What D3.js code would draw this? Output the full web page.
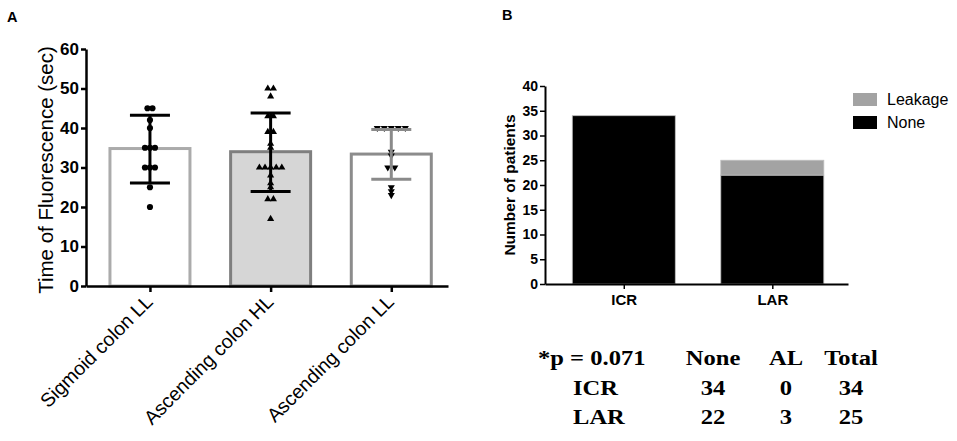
<!DOCTYPE html>
<html>
<head>
<meta charset="utf-8">
<script src="https://cdn.jsdelivr.net/npm/d3@7"></script>
<style>
  body { margin: 0; background: #fff; }
  svg { display: block; font-family: "Liberation Sans", Arial, sans-serif; }
  .boldTicks text { font-weight: bold; }
</style>
</head>
<body>
<svg id="chart" width="957" height="441"></svg>
<script>
// ---- panel A data ----
const catsA = ["Sigmoid colon LL", "Ascending colon HL", "Ascending colon LL"];
const meansA = [34.8, 34.0, 33.4];
const errHighA = [43.2, 43.8, 39.6];
const errLowA = [26.1, 23.9, 27.0];
const pointsSigmoidLL = [45, 45, 42, 40, 35, 35, 35, 30, 30, 30, 25, 20];
const pointsAscendingHL = [50, 50, 48, 43, 43, 39, 39, 36, 35, 30, 30, 30, 30, 30, 28, 26, 25, 22, 22, 17];
const pointsAscendingLL = [40, 40, 40, 40, 40, 34, 33, 30, 30, 25, 24, 23];
const yTicksA = [0, 10, 20, 30, 40, 50, 60];

// ---- panel B data ----
const groupsB = ["ICR", "LAR"];
const noneCounts = [34, 22];
const leakCounts = [0, 3];
const yTicksB = [0, 5, 10, 15, 20, 25, 30, 35, 40];
const pValueText = "*p = 0.071";
const tableHeads = ["None", "AL", "Total"];

const svg = d3.select("#chart");

// ================= panel A =================
const barStroke = ["#ababab", "#7f7f7f", "#8c8c8c"];
const barFill = ["#ffffff", "#d6d6d6", "#ffffff"];
const errColor = ["#000", "#000", "#8a8a8a"];
const markers = [d3.symbolCircle, d3.symbolTriangle, d3.symbolTriangle];
const markerSize = [30, 22, 22];
const markerRotate = [0, 0, 180];
const markerStep = [5, 5.6, 7];
const pointsA = [pointsSigmoidLL, pointsAscendingHL, pointsAscendingLL];

const xA = d3.scalePoint().domain(catsA).range([86, 448]).padding(0.5).align(0.53);
const yA = d3.scaleLinear().domain([0, 60]).range([286, 49]);
const barWA = 80;

const gA = svg.append("g");

// bars
gA.selectAll("rect.barA")
  .data(catsA).enter()
  .append("rect")
  .attr("class", "barA")
  .attr("x", d => xA(d) - barWA / 2)
  .attr("y", (d, i) => yA(meansA[i]))
  .attr("width", barWA)
  .attr("height", (d, i) => yA(0) - yA(meansA[i]))
  .attr("fill", (d, i) => barFill[i])
  .attr("stroke", (d, i) => barStroke[i])
  .attr("stroke-width", 3);

// scatter points, identical values spread side by side
pointsA.forEach((vals, i) => {
  const counts = d3.rollup(vals, v => v.length, v => v);
  const seen = new Map();
  const pts = vals.map(v => {
    const k = seen.get(v) || 0;
    seen.set(v, k + 1);
    const n = counts.get(v);
    return { v, off: (k - (n - 1) / 2) * markerStep[i] };
  });
  gA.selectAll(null)
    .data(pts).enter()
    .append("path")
    .attr("d", d3.symbol().type(markers[i]).size(markerSize[i]))
    .attr("transform", d => `translate(${xA(catsA[i]) + d.off},${yA(d.v)}) rotate(${markerRotate[i]})`)
    .attr("fill", "#000");
});

// error bars
const capW = 40;
catsA.forEach((c, i) => {
  const eg = gA.append("g").attr("stroke", errColor[i]).attr("stroke-width", 3);
  eg.append("line")
    .attr("x1", xA(c)).attr("x2", xA(c))
    .attr("y1", yA(errHighA[i])).attr("y2", yA(errLowA[i]));
  [errHighA[i], errLowA[i]].forEach(v => {
    eg.append("line")
      .attr("x1", xA(c) - capW / 2).attr("x2", xA(c) + capW / 2)
      .attr("y1", yA(v)).attr("y2", yA(v));
  });
});

// axes A
const yAxisA = gA.append("g")
  .attr("class", "boldTicks")
  .attr("transform", "translate(86,0)")
  .call(d3.axisLeft(yA).tickValues(yTicksA).tickSize(5).tickPadding(2).tickSizeOuter(0));
yAxisA.select(".domain").attr("stroke", "#000").attr("stroke-width", 2.5);
yAxisA.selectAll(".tick line").attr("stroke", "#000").attr("stroke-width", 2.5);
yAxisA.selectAll(".tick text")
  .attr("font-size", 17).attr("fill", "#000")
  .attr("font-family", "Liberation Sans, Arial, sans-serif");

const xAxisA = gA.append("g")
  .attr("transform", "translate(0,286)")
  .call(d3.axisBottom(xA).tickSize(6).tickSizeOuter(0).tickFormat(""));
xAxisA.select(".domain").attr("stroke", "#000").attr("stroke-width", 2.5);
xAxisA.selectAll(".tick line").attr("stroke", "#000").attr("stroke-width", 2.5);

gA.selectAll("text.xlabA")
  .data(catsA).enter()
  .append("text")
  .attr("class", "xlabA")
  .attr("transform", d => `translate(${xA(d) + 4},303) rotate(-45)`)
  .attr("text-anchor", "end")
  .attr("font-size", 19.5)
  .attr("fill", "#000")
  .text(d => d);

gA.append("text")
  .attr("transform", "translate(53,170) rotate(-90)")
  .attr("text-anchor", "middle")
  .attr("font-size", 20.5)
  .attr("fill", "#000")
  .text("Time of Fluorescence (sec)");

svg.append("text")
  .attr("x", 7).attr("y", 22)
  .attr("font-size", 14.5).attr("font-weight", "bold")
  .text("A");

// ================= panel B =================
const xB = d3.scalePoint().domain(groupsB).range([545, 848]).padding(0.52).align(0.51);
const yB = d3.scaleLinear().domain([0, 40]).range([284, 86]);
const barWB = 103;
const keysB = ["None", "Leakage"];
const colorB = d3.scaleOrdinal().domain(keysB).range(["#000000", "#a3a3a3"]);

const tableB = groupsB.map((g, i) => ({ group: g, None: noneCounts[i], Leakage: leakCounts[i] }));
const stackB = d3.stack().keys(keysB)(tableB);

const gB = svg.append("g");
gB.selectAll("g.layer")
  .data(stackB).enter()
  .append("g")
  .attr("class", "layer")
  .attr("fill", d => colorB(d.key))
  .selectAll("rect")
  .data(d => d.filter(s => s[1] > s[0])).enter()
  .append("rect")
  .attr("x", d => xB(d.data.group) - barWB / 2)
  .attr("y", d => yB(d[1]))
  .attr("width", barWB)
  .attr("height", d => yB(d[0]) - yB(d[1]))
  .attr("stroke", "#bdbdbd")
  .attr("stroke-width", 0.8);

const yAxisB = gB.append("g")
  .attr("class", "boldTicks")
  .attr("transform", "translate(545,0)")
  .call(d3.axisLeft(yB).tickValues(yTicksB).tickSize(5).tickPadding(2).tickSizeOuter(0));
yAxisB.select(".domain").attr("stroke", "#000").attr("stroke-width", 2);
yAxisB.selectAll(".tick line").attr("stroke", "#000").attr("stroke-width", 1.5);
yAxisB.selectAll(".tick text")
  .attr("font-size", 14).attr("fill", "#000")
  .attr("font-family", "Liberation Sans, Arial, sans-serif");

const xAxisB = gB.append("g")
  .attr("class", "boldTicks")
  .attr("transform", "translate(0,284)")
  .call(d3.axisBottom(xB).tickSize(5).tickSizeOuter(0).tickPadding(5));
xAxisB.select(".domain").attr("stroke", "#000").attr("stroke-width", 2);
xAxisB.selectAll(".tick line").attr("stroke", "#000").attr("stroke-width", 1.5);
xAxisB.selectAll(".tick text")
  .attr("font-size", 15).attr("fill", "#000")
  .attr("font-family", "Liberation Sans, Arial, sans-serif");

gB.append("text")
  .attr("transform", "translate(515,185) rotate(-90)")
  .attr("text-anchor", "middle")
  .attr("font-size", 15.5).attr("font-weight", "bold")
  .text("Number of patients");

// legend (Leakage on top)
const legend = gB.append("g").attr("transform", "translate(853,93)");
const legendKeys = keysB.slice().reverse();
legendKeys.forEach((k, i) => {
  legend.append("rect")
    .attr("x", 0).attr("y", i * 23)
    .attr("width", 24).attr("height", 13)
    .attr("fill", colorB(k));
  legend.append("text")
    .attr("x", 34).attr("y", i * 23 + 12)
    .attr("font-size", 16)
    .text(k);
});

svg.append("text")
  .attr("x", 502).attr("y", 20)
  .attr("font-size", 14.5).attr("font-weight", "bold")
  .text("B");

// ---- contingency table ----
const serif = "Liberation Serif, Times New Roman, serif";
const sx = 1.17;
const colX = [713, 786, 851];
const rowY = [365, 395, 424];
const tbl = svg.append("g")
  .attr("font-family", serif).attr("font-weight", "bold")
  .attr("font-size", 21).attr("fill", "#000");

function cell(x, y, anchor, txt) {
  tbl.append("text")
    .attr("transform", `translate(${x},${y}) scale(${sx},1)`)
    .attr("text-anchor", anchor)
    .text(txt);
}
cell(538, rowY[0], "start", pValueText);
tableHeads.forEach((h, j) => cell(colX[j], rowY[0], "middle", h));
groupsB.forEach((g, i) => {
  const vals = [noneCounts[i], leakCounts[i], noneCounts[i] + leakCounts[i]];
  cell(573, rowY[i + 1], "start", g);
  vals.forEach((v, j) => cell(colX[j], rowY[i + 1], "middle", v));
});
</script>
</body>
</html>
